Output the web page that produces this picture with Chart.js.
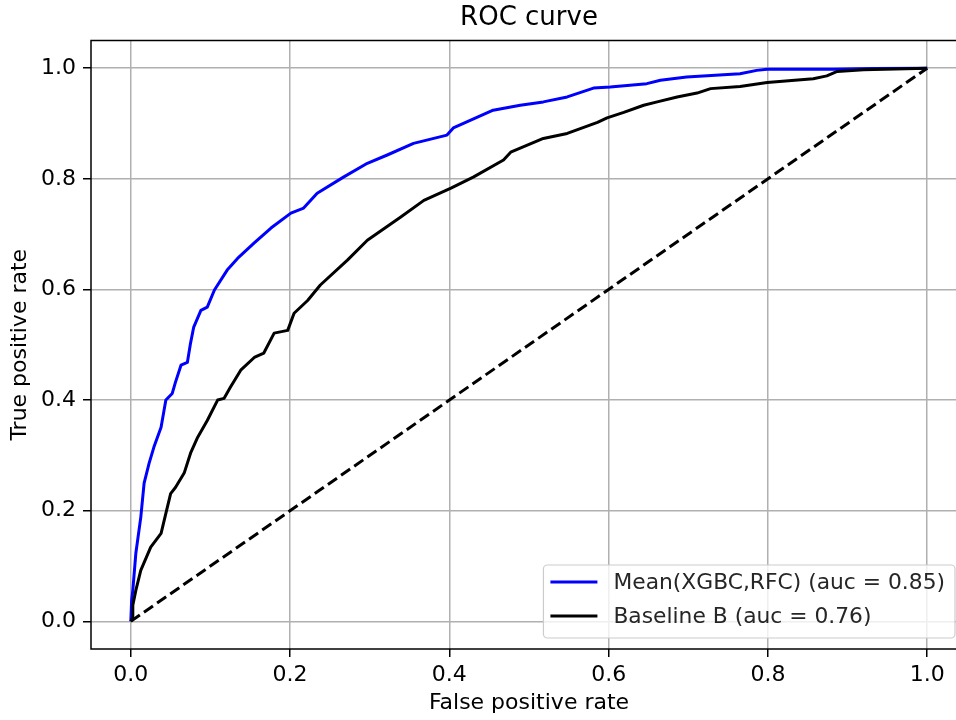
<!DOCTYPE html>
<html>
<head>
<meta charset="utf-8">
<script src="https://cdn.jsdelivr.net/npm/chart.js@4/dist/chart.umd.min.js"></script>
<style>
  html, body { margin: 0; padding: 0; background: #fff; overflow: hidden; }
  #roc { display: block; }
</style>
</head>
<body>
<canvas id="roc" width="956" height="720"></canvas>
<script>
// ROC points (false positive rate / true positive rate)
const fprMean = [0, 0.001, 0.0025, 0.0063, 0.0125, 0.0167, 0.023, 0.029, 0.038, 0.044, 0.052, 0.056, 0.063, 0.071, 0.075, 0.079, 0.088, 0.096, 0.105, 0.121, 0.134, 0.155, 0.176, 0.201, 0.217, 0.234, 0.267, 0.297, 0.322, 0.355, 0.397, 0.405, 0.455, 0.489, 0.518, 0.548, 0.581, 0.602, 0.648, 0.665, 0.698, 0.765, 0.786, 0.799, 0.882, 0.932, 1];
const tprMean = [0, 0.038, 0.056, 0.123, 0.188, 0.250, 0.286, 0.315, 0.351, 0.400, 0.412, 0.432, 0.463, 0.468, 0.503, 0.532, 0.562, 0.568, 0.599, 0.635, 0.656, 0.684, 0.711, 0.738, 0.747, 0.774, 0.803, 0.828, 0.843, 0.864, 0.879, 0.892, 0.924, 0.933, 0.939, 0.948, 0.964, 0.966, 0.972, 0.978, 0.984, 0.990, 0.996, 0.998, 0.998, 0.9995, 1];

const fprBase = [0, 0.0025, 0.0025, 0.0063, 0.0125, 0.025, 0.038, 0.044, 0.050, 0.056, 0.067, 0.075, 0.084, 0.096, 0.109, 0.117, 0.125, 0.138, 0.155, 0.167, 0.180, 0.197, 0.205, 0.222, 0.238, 0.272, 0.297, 0.339, 0.368, 0.402, 0.430, 0.468, 0.477, 0.518, 0.548, 0.586, 0.598, 0.619, 0.644, 0.661, 0.686, 0.711, 0.728, 0.765, 0.799, 0.857, 0.874, 0.887, 0.920, 1];
const tprBase = [0, 0.007, 0.029, 0.056, 0.092, 0.134, 0.159, 0.195, 0.231, 0.242, 0.268, 0.304, 0.333, 0.363, 0.400, 0.403, 0.423, 0.454, 0.477, 0.485, 0.521, 0.526, 0.557, 0.580, 0.608, 0.653, 0.689, 0.731, 0.761, 0.783, 0.803, 0.834, 0.848, 0.873, 0.882, 0.902, 0.910, 0.920, 0.933, 0.939, 0.948, 0.955, 0.963, 0.967, 0.974, 0.981, 0.986, 0.994, 0.997, 1];

const chanceX = [0, 1];
const chanceY = [0, 1];

const tickValues = [0, 0.2, 0.4, 0.6, 0.8, 1.0];
const seriesLabels = ['Mean(XGBC,RFC) (auc = 0.85)', 'Baseline B (auc = 0.76)'];

const FONT = 'DejaVu Sans';
const RIGHT_OVERHANG = 11; // axes box runs this far past the canvas edge
const toPoints = (xs, ys) => xs.map((x, i) => ({ x: x, y: ys[i] }));

// push the plot area's right edge past the canvas, like a cropped figure
const overhang = {
  id: 'overhang',
  afterLayout(chart) {
    const right = chart.width + RIGHT_OVERHANG;
    const area = chart.chartArea;
    area.right = right;
    area.width = right - area.left;
    const x = chart.scales.x;
    x.right = right;
    x.width = right - x.left;
    x.configure();
    if (chart.titleBlock) {
      chart.titleBlock.right = right;
      chart.titleBlock.width = right - chart.titleBlock.left;
    }
  }
};

// axes box in scale pixels
function axesBox(chart) {
  const { x, y } = chart.scales;
  return { left: x.left, right: x.right, top: y.top, bottom: y.bottom };
}

// full axes frame (all four spines)
const framePlugin = {
  id: 'frame',
  afterDraw(chart) {
    const { ctx } = chart;
    const a = axesBox(chart);
    ctx.save();
    ctx.strokeStyle = '#000';
    ctx.lineWidth = 1.5;
    ctx.strokeRect(a.left, a.top, a.right - a.left, a.bottom - a.top);
    ctx.restore();
  }
};

// legend box in the lower right corner of the axes
const cornerLegend = {
  id: 'cornerLegend',
  afterDatasetsDraw(chart) {
    const { ctx } = chart;
    const a = axesBox(chart);
    const items = chart.data.datasets.filter(d => d.showInLegend);
    ctx.save();
    ctx.font = '21.8px "' + FONT + '"';
    const textW = Math.max(...items.map(d => ctx.measureText(d.label).width));
    const w = 7 + 47 + 16 + textW + 10;
    const h = 73;
    const x0 = a.right - 12 - w;
    const y0 = a.bottom - 11 - h;

    ctx.beginPath();
    ctx.roundRect(x0, y0, w, h, 4);
    ctx.fillStyle = 'rgba(255,255,255,0.8)';
    ctx.fill();
    ctx.strokeStyle = '#cccccc';
    ctx.lineWidth = 1.2;
    ctx.stroke();

    items.forEach((d, i) => {
      const cy = y0 + 17 + i * 34;
      ctx.beginPath();
      ctx.moveTo(x0 + 7, cy);
      ctx.lineTo(x0 + 54, cy);
      ctx.strokeStyle = d.borderColor;
      ctx.lineWidth = 3;
      ctx.stroke();
      ctx.fillStyle = '#262626';
      ctx.textBaseline = 'middle';
      ctx.textAlign = 'left';
      ctx.fillText(d.label, x0 + 70, cy + 1.5);
    });
    ctx.restore();
  }
};

const axisCommon = {
  type: 'linear',
  min: -0.05,
  max: 1.05,
  afterBuildTicks(scale) {
    scale.ticks = tickValues.map(v => ({ value: v }));
  },
  border: { display: false },
  grid: {
    color: '#b0b0b0',
    lineWidth: 1.5,
    tickColor: '#000',
    tickLength: 8,
    tickWidth: 1.5
  },
  ticks: {
    color: '#000',
    font: { family: FONT, size: 22 },
    callback: v => Number(v).toFixed(1),
    maxRotation: 0,
    autoSkip: false
  }
};

new Chart(document.getElementById('roc'), {
  type: 'line',
  data: {
    datasets: [
      {
        label: 'chance',
        data: toPoints(chanceX, chanceY),
        borderColor: '#000',
        borderWidth: 3,
        borderDash: [11, 5],
        pointRadius: 0,
        order: 2
      },
      {
        label: seriesLabels[0],
        data: toPoints(fprMean, tprMean),
        borderColor: '#0000ff',
        borderWidth: 3,
        pointRadius: 0,
        showInLegend: true,
        order: 1
      },
      {
        label: seriesLabels[1],
        data: toPoints(fprBase, tprBase),
        borderColor: '#000000',
        borderWidth: 3,
        pointRadius: 0,
        showInLegend: true,
        order: 0
      }
    ]
  },
  options: {
    responsive: false,
    animation: false,
    layout: { padding: 0 },
    elements: { line: { tension: 0, borderCapStyle: 'butt', borderJoinStyle: 'round' } },
    plugins: {
      legend: { display: false },
      tooltip: { enabled: false },
      title: {
        display: true,
        text: 'ROC curve',
        color: '#000',
        fullSize: false,
        font: { family: FONT, size: 26, weight: 'normal' },
        padding: { top: 3, bottom: 6.3 }
      }
    },
    scales: {
      x: {
        ...axisCommon,
        position: 'bottom',
        ticks: { ...axisCommon.ticks, padding: 5 },
        title: {
          display: true,
          text: 'False positive rate',
          color: '#000',
          font: { family: FONT, size: 22 },
          padding: { top: 0, bottom: 4 }
        },
        afterFit(scale) { scale.height = 71; }
      },
      y: {
        ...axisCommon,
        position: 'left',
        ticks: { ...axisCommon.ticks, padding: 7 },
        title: {
          display: true,
          text: 'True positive rate',
          color: '#000',
          font: { family: FONT, size: 22 },
          padding: { top: 7, bottom: 0 }
        },
        afterFit(scale) { scale.width = 91; }
      }
    }
  },
  plugins: [overhang, framePlugin, cornerLegend]
});
</script>
</body>
</html>
